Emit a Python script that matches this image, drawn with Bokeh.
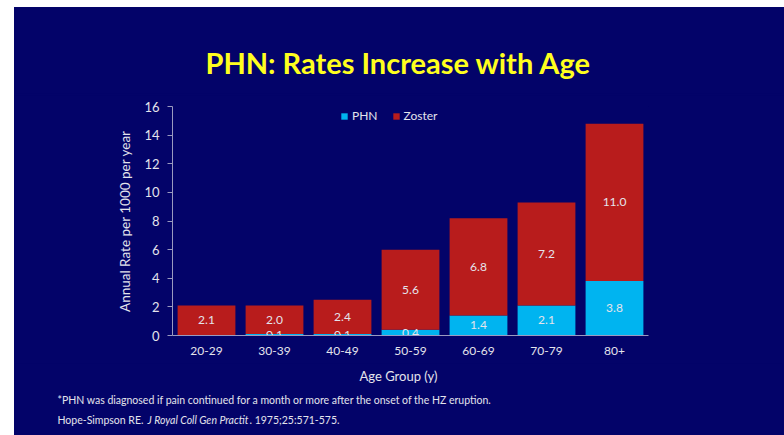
from bokeh.plotting import figure
from bokeh.layouts import column
from bokeh.models import Range1d, FactorRange, SingleIntervalTicker, Label, ColumnDataSource, Legend, LegendItem
from bokeh.embed import file_html
from bokeh.resources import INLINE
from bokeh.core.properties import value

categories = ["20-29", "30-39", "40-49", "50-59", "60-69", "70-79", "80+"]
phn = [0.0, 0.1, 0.1, 0.4, 1.4, 2.1, 3.8]
zoster = [2.1, 2.0, 2.4, 5.6, 6.8, 7.2, 11.0]
series = ["PHN", "Zoster"]
title_text = "PHN: Rates Increase with Age"
y_label = "Annual Rate per 1000 per year"
x_label = "Age Group (y)"
note1 = "*PHN was diagnosed if pain continued for a month or more after the onset of the HZ eruption."
ref_a = "Hope-Simpson RE."
ref_b = "J Royal Coll Gen Practit"
ref_c = ". 1975;25:571-575."

BG = "#030369"
C_PHN = "#00b4f0"
C_ZOS = "#b81c1c"
TXT = "#e4e4ec"
FONT = "Lato"
W = 770


def text_fig(h):
    f = figure(width=W, height=h, x_range=Range1d(0, W), y_range=Range1d(0, h),
               x_axis_type=None, y_axis_type=None, output_backend="svg",
               toolbar_location=None, tools="", min_border=0, frame_align=False)
    f.background_fill_color = BG
    f.border_fill_color = BG
    f.outline_line_color = BG
    f.outline_line_width = 2
    f.xgrid.grid_line_color = None
    f.ygrid.grid_line_color = None
    return f


def lab(f, text, x, y, size, color=TXT, style="normal", align="left"):
    f.add_layout(Label(x=x, y=y, text=text, text_font=FONT, text_font_size=size,
                       text_color=color, text_font_style=style, text_align=align,
                       text_baseline="alphabetic"))


# ---- title strip
top = text_fig(88)
lab(top, title_text, 384, 33, "29px", color="#ffff1e", style="bold", align="center")

# ---- main chart
src = ColumnDataSource(dict(cat=categories, PHN=phn, Zoster=zoster))
p = figure(width=W, height=267, x_range=FactorRange(*categories), y_range=Range1d(0, 16),
           output_backend="svg", toolbar_location=None, tools="", frame_align=False)
p.min_border_left = 158
p.min_border_right = 136
p.min_border_top = 11
p.min_border_bottom = 27
p.background_fill_color = BG
p.border_fill_color = BG
p.outline_line_color = BG
p.xgrid.grid_line_color = None
p.ygrid.grid_line_color = None

rs = p.vbar_stack(series, x="cat", width=0.85, source=src, color=[C_PHN, C_ZOS], line_color=None)

lx, ly, lt = [], [], []
for c, a, b in zip(categories, phn, zoster):
    if a > 0:
        lx.append(c); ly.append(a / 2); lt.append(f"{a:.1f}")
    lx.append(c); ly.append(a + b / 2); lt.append(f"{b:.1f}")
p.text(x=lx, y=ly, text=lt, text_align="center", text_baseline="middle",
       text_color=TXT, text_font=value(FONT), text_font_size="12px")

ax = p.yaxis[0]
ax.ticker = SingleIntervalTicker(interval=2)
ax.axis_line_color = "#9a9ac0"
ax.major_tick_line_color = "#9a9ac0"
ax.major_tick_in = 0
ax.major_tick_out = 5
ax.minor_tick_line_color = None
ax.major_label_text_color = TXT
ax.major_label_text_font = FONT
ax.major_label_text_font_size = "13px"
ax.major_label_standoff = 8
ax.axis_label = y_label
ax.axis_label_text_color = TXT
ax.axis_label_text_font = FONT
ax.axis_label_text_font_size = "13.5px"
ax.axis_label_text_font_style = "normal"
ax.axis_label_standoff = 8

bx = p.xaxis[0]
bx.axis_line_color = "#9a9ac0"
bx.major_tick_line_color = None
bx.minor_tick_line_color = None
bx.major_tick_out = 0
bx.major_label_text_color = TXT
bx.major_label_text_font = FONT
bx.major_label_text_font_size = "12px"
bx.major_label_standoff = 11

legend = Legend(items=[LegendItem(label=s, renderers=[r]) for s, r in zip(series, rs)],
                orientation="horizontal", location=(168, 212),
                glyph_width=8, glyph_height=8, label_standoff=4, spacing=14,
                padding=0, margin=0, background_fill_alpha=0, border_line_alpha=0,
                label_text_color=TXT, label_text_font=FONT, label_text_font_size="12px")
p.add_layout(legend, "center")

# ---- bottom strip
bot = text_fig(73)
lab(bot, x_label, 384, 60, "13px", align="center")
lab(bot, note1, 43, 36, "10.5px")
lab(bot, ref_a, 43, 16, "10.5px")
lab(bot, ref_b, 133, 16, "10.5px", style="italic")
lab(bot, ref_c, 235, 16, "10.5px")

layout = column(top, p, bot, spacing=0, styles={"background-color": BG})
layout.margin = (7, 0, 0, 14)
open("out.html", "w").write(file_html(layout, INLINE))
